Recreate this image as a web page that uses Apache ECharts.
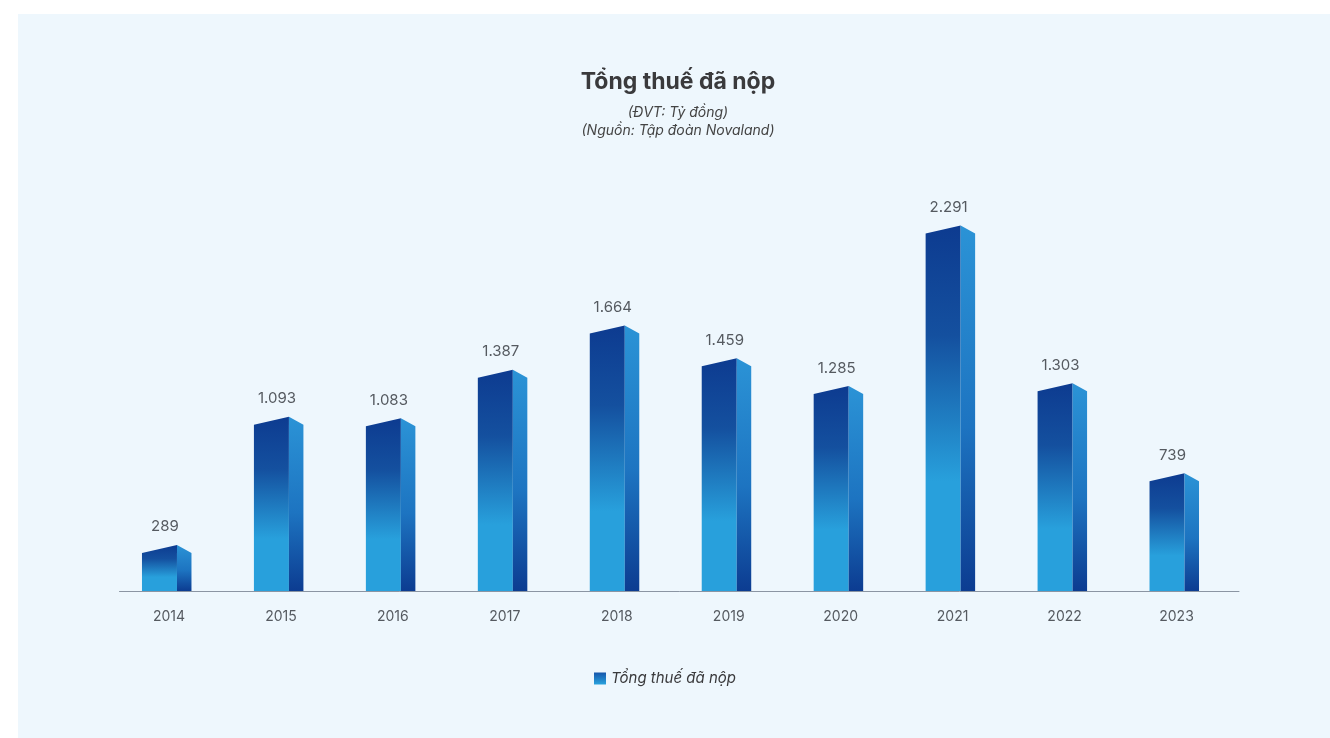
<!DOCTYPE html>
<html lang="vi">
<head>
<meta charset="utf-8">
<title>Tổng thuế đã nộp</title>
<script src="https://cdn.jsdelivr.net/npm/echarts@6/dist/echarts.min.js"></script>
<style>
  html, body { margin: 0; padding: 0; background: #ffffff; }
  #chart { width: 1330px; height: 738px; }
</style>
</head>
<body>
<div id="chart"></div>
<script>
// Tax paid per year (billion VND)
const years = ['2014', '2015', '2016', '2017', '2018', '2019', '2020', '2021', '2022', '2023'];
const taxPaid = [289, 1093, 1083, 1387, 1664, 1459, 1285, 2291, 1303, 739];
const seriesName = 'Tổng thuế đã nộp';
const titleText = 'Tổng thuế đã nộp';
const subTitleLines = ['(ĐVT: Tỷ đồng)', '(Nguồn: Tập đoàn Novaland)'];

const FONT = 'Inter, "Noto Sans", sans-serif';

// Vietnamese number style: dot as thousands separator
function fmt(v) {
  return String(v).replace(/\B(?=(\d{3})+(?!\d))/g, '.');
}

const frontGrad = () => new echarts.graphic.LinearGradient(0, 0, 0, 1, [
  { offset: 0, color: '#0d3b90' },
  { offset: 0.3, color: '#14509f' },
  { offset: 0.7, color: '#28a0dc' },
  { offset: 1, color: '#28a0dc' }
]);
const sideGrad = () => new echarts.graphic.LinearGradient(0, 0, 0, 1, [
  { offset: 0, color: '#2b93d6' },
  { offset: 0.55, color: '#1d74c1' },
  { offset: 1, color: '#0c3c91' }
]);

const FRONT_W = 35;   // front face width
const SIDE_W = 14.5;  // side face width
const SLANT = 8;      // drop of the top edges from the ridge
const NUDGE = 1.5;    // ridge sits just right of the category centre

function renderPrism(params, api) {
  const idx = api.value(0);
  const val = api.value(1);
  const top = api.coord([idx, val]);
  const base = api.coord([idx, 0]);
  const x = top[0] + NUDGE, y = top[1], b = base[1];
  return {
    type: 'group',
    children: [
      {
        type: 'polygon',
        shape: { points: [[x - FRONT_W, y + SLANT], [x, y], [x, b], [x - FRONT_W, b]] },
        style: { fill: frontGrad() }
      },
      {
        type: 'polygon',
        shape: { points: [[x, y], [x + SIDE_W, y + SLANT], [x + SIDE_W, b], [x, b]] },
        style: { fill: sideGrad() }
      },
      {
        type: 'text',
        style: {
          x: x - 12, y: y - 18,
          text: fmt(val),
          align: 'center', verticalAlign: 'middle',
          fill: '#555a60', font: '15px ' + FONT
        }
      }
    ]
  };
}

const chart = echarts.init(document.getElementById('chart'), null, { renderer: 'canvas' });

chart.setOption({
  backgroundColor: '#ffffff',
  animation: false,
  graphic: [
    {
      type: 'rect', z: -10, silent: true,
      shape: { x: 18, y: 14, width: 1330, height: 740 },
      style: { fill: '#eef7fd' }
    },
    {
      type: 'text', z: 10,
      style: {
        x: 678, y: 82, text: titleText, align: 'center', verticalAlign: 'middle',
        fill: '#3a3a3c', font: 'bold 23px ' + FONT
      }
    },
    {
      type: 'text', z: 10,
      style: {
        x: 678, y: 113, text: subTitleLines[0], align: 'center', verticalAlign: 'middle',
        fill: '#444444', font: 'italic 14px ' + FONT
      }
    },
    {
      type: 'text', z: 10,
      style: {
        x: 678, y: 131, text: subTitleLines[1], align: 'center', verticalAlign: 'middle',
        fill: '#444444', font: 'italic 14px ' + FONT
      }
    }
  ],
  legend: {
    data: [seriesName],
    left: 'center',
    top: 666,
    icon: 'rect',
    itemWidth: 12,
    itemHeight: 12,
    itemGap: 8,
    textStyle: { fontFamily: FONT, fontSize: 15, fontStyle: 'italic', color: '#3a3a3c' }
  },
  grid: { left: 119.5, right: 91, top: 192.25, bottom: 147, containLabel: false },
  xAxis: {
    type: 'category',
    data: years,
    axisLine: { lineStyle: { color: '#8b95a3', width: 1 } },
    axisTick: { show: false },
    axisLabel: {
      margin: 19, color: '#555a60', fontSize: 14, fontFamily: FONT,
      padding: [0, 13, 0, 0]
    }
  },
  yAxis: {
    type: 'value', min: 0, max: 2500,
    show: false,
    splitLine: { show: false }
  },
  series: [{
    name: seriesName,
    type: 'custom',
    renderItem: renderPrism,
    itemStyle: {
      color: new echarts.graphic.LinearGradient(0, 0, 0, 1, [
        { offset: 0, color: '#1656ab' },
        { offset: 1, color: '#29a3de' }
      ])
    },
    encode: { x: 0, y: 1 },
    data: taxPaid.map((v, i) => [i, v])
  }]
});
</script>
</body>
</html>
